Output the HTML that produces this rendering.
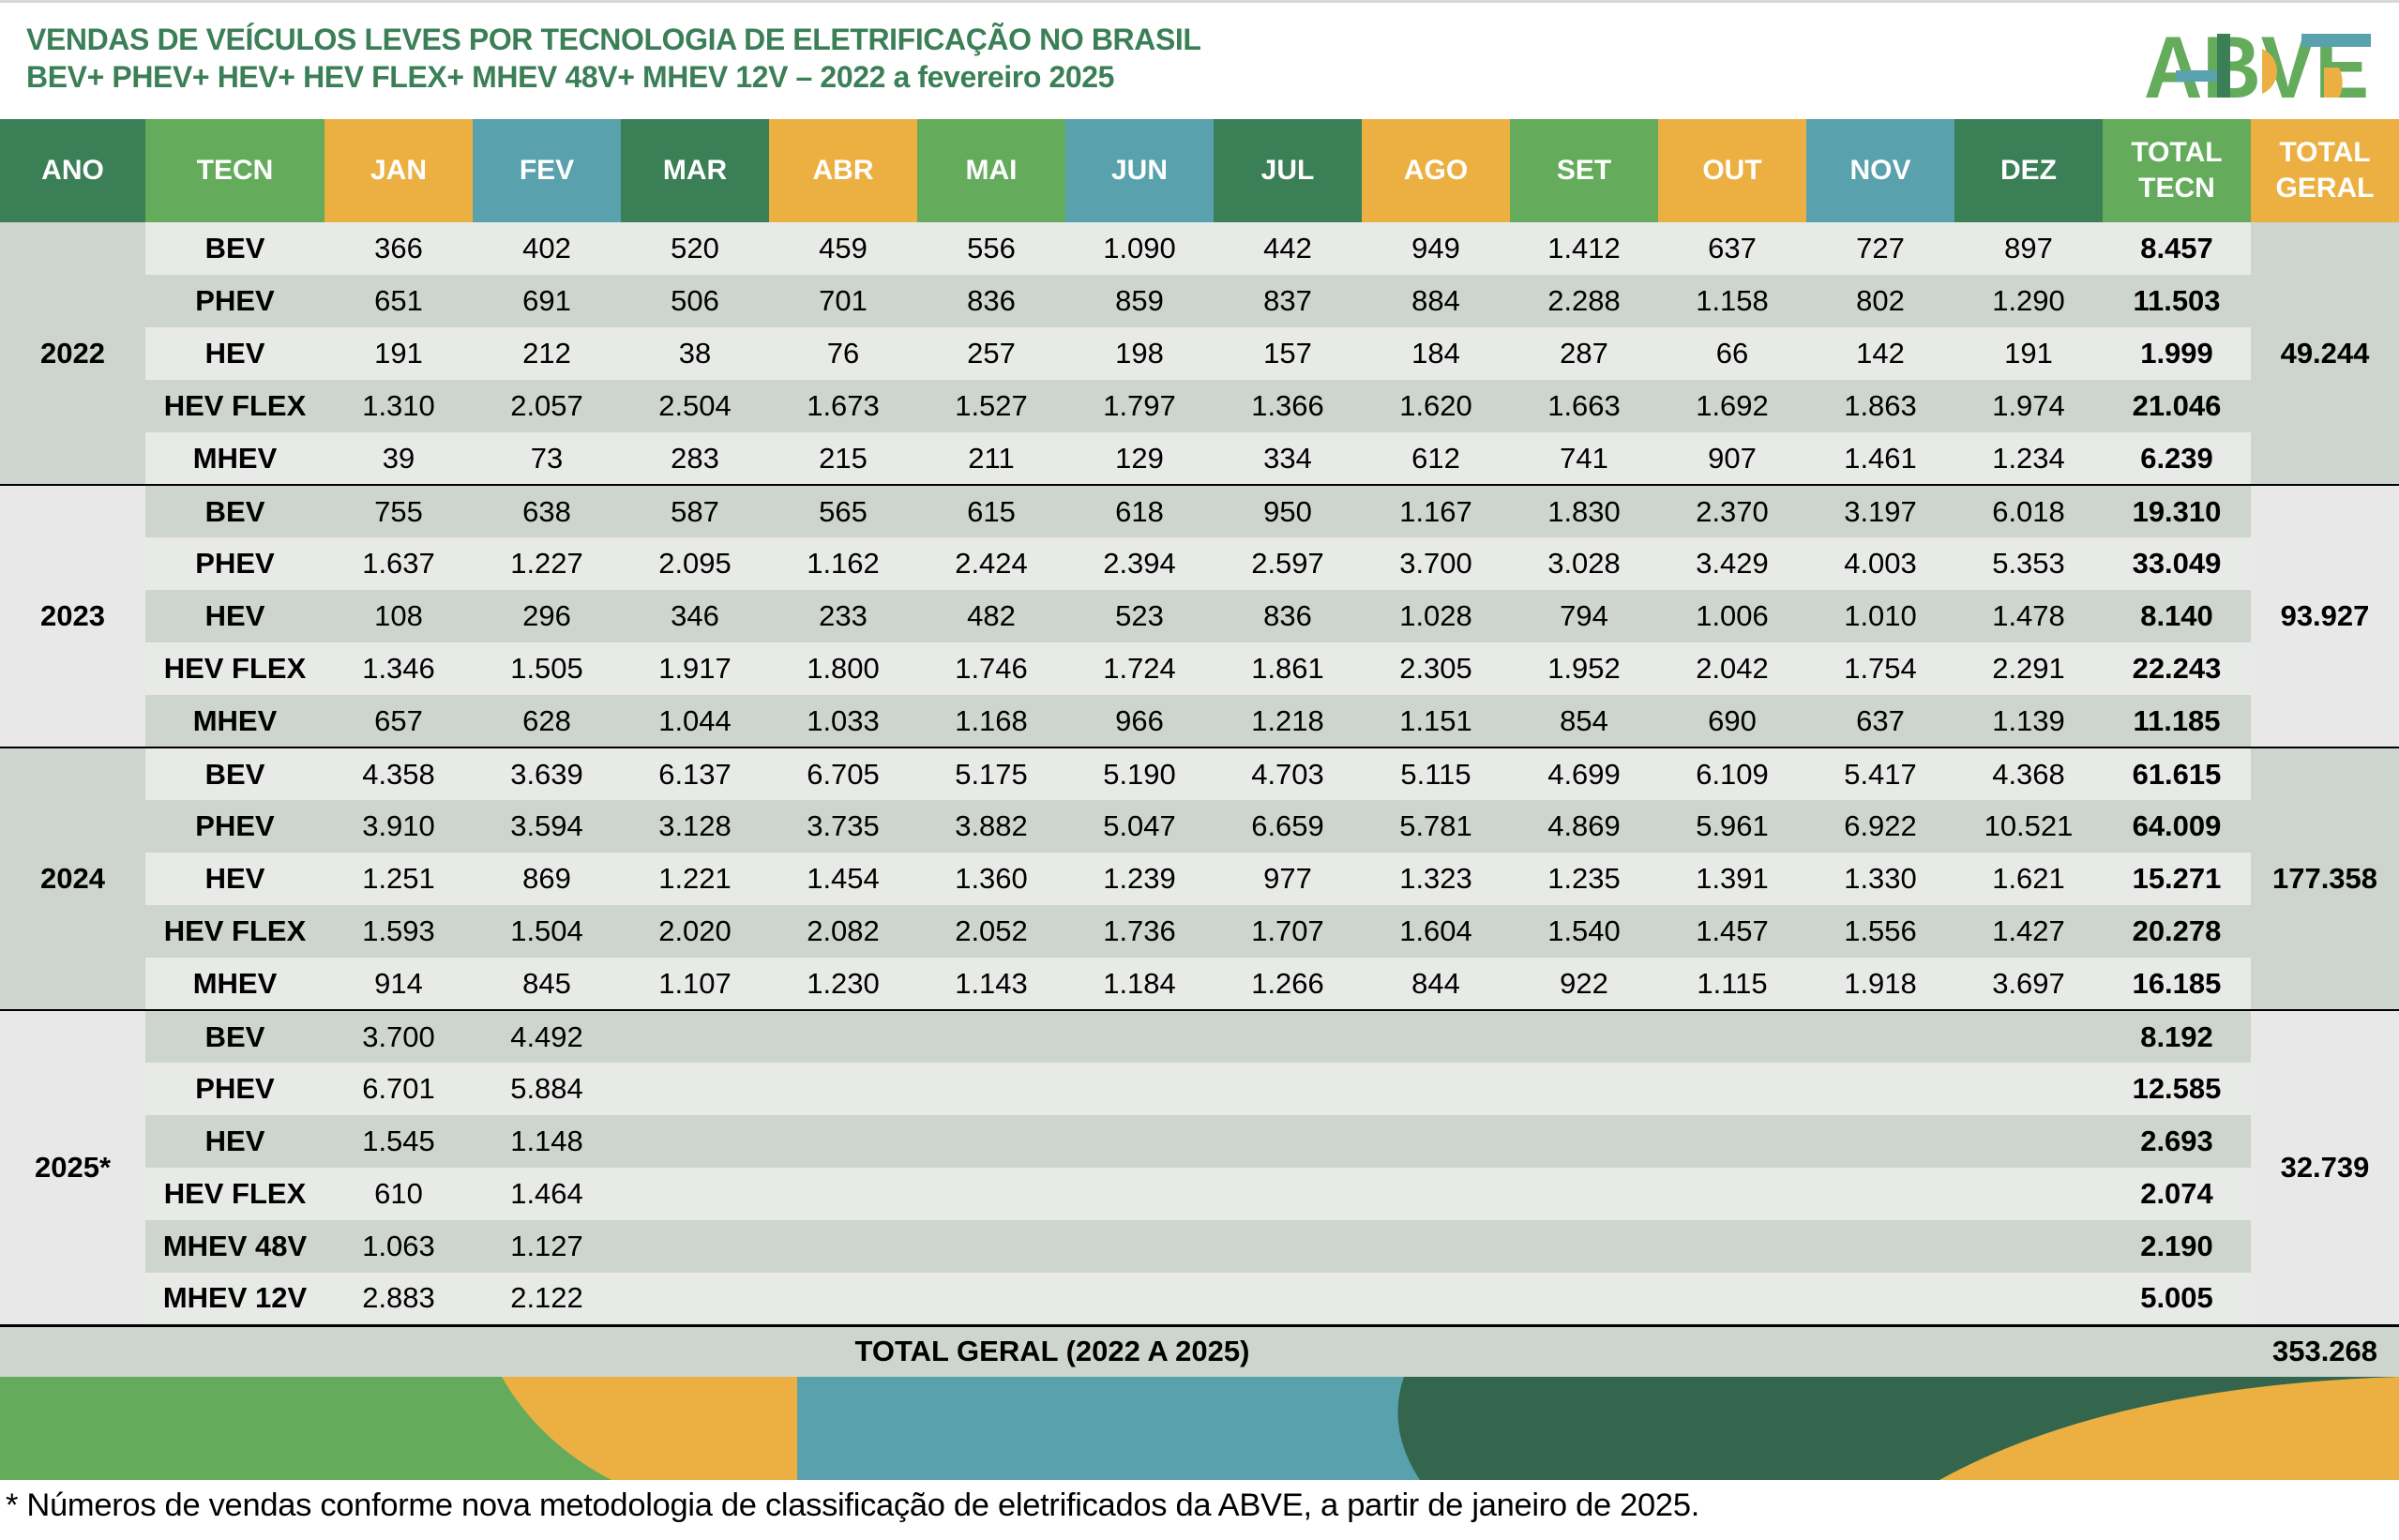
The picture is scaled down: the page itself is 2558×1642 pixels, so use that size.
<!DOCTYPE html>
<html><head><meta charset="utf-8">
<style>
*{margin:0;padding:0;box-sizing:border-box}
body{width:2558px;height:1642px;background:#fff;position:relative;overflow:hidden;font-family:"Liberation Sans",sans-serif}
.t{position:absolute;left:28px;color:#3b7f57;font-weight:bold;font-size:32px;white-space:nowrap;letter-spacing:-0.4px}
table{position:absolute;left:0;top:127px;border-collapse:collapse;table-layout:fixed;width:2558px}
td,th{padding:0;text-align:center;vertical-align:middle;overflow:hidden;white-space:nowrap}
th{height:110px;color:#fff;font-size:30px;font-weight:bold;line-height:38px}
td{height:56px;font-size:31px;color:#000}
.dg{background:#3b7f57}.lg{background:#64ab5c}.or{background:#ecb042}.te{background:#58a1ad}
tr.L td{background:#e8eae7}tr.D td{background:#cdd5ce}
td.yd{background:#cdd5ce!important;font-weight:bold}td.yl{background:#e8e8e8!important;font-weight:bold}
td.b{font-weight:bold}
tr.s td{border-top:2px solid #000}
tr.tot td{background:#cdd5ce;height:55px;font-weight:bold;border-top:3px solid #000}
.fn{position:absolute;left:6px;top:1586px;font-size:34.5px;white-space:nowrap;color:#000;letter-spacing:-0.3px}
</style></head><body>
<div style="position:absolute;left:0;top:0;width:2558px;height:3px;background:#d8d8d8"></div>
<div class="t" style="top:24px">VENDAS DE VEÍCULOS LEVES POR TECNOLOGIA DE ELETRIFICAÇÃO NO BRASIL</div>
<div class="t" style="top:64px">BEV+ PHEV+ HEV+ HEV FLEX+ MHEV 48V+ MHEV 12V – 2022 a fevereiro 2025</div>
<svg style="position:absolute;left:2282px;top:30px" width="260" height="80">
<text x="4" y="74" font-family="Liberation Sans" font-weight="bold" font-size="94" fill="#64ab5c" textLength="240" lengthAdjust="spacingAndGlyphs">ABVE</text>
<rect x="38" y="45" width="44" height="12" fill="#58a1ad"/>
<rect x="82" y="6" width="14" height="68" fill="#3b7f57"/>
<rect x="172" y="6" width="74" height="14" fill="#58a1ad"/>
<path d="M130 22 A26 26 0 0 1 130 70 Z" fill="#ecb042"/>
<path d="M196 42 L212 42 A28 32 0 0 1 212 74 L196 74Z" fill="#ecb042"/>
</svg>
<table>
<colgroup><col style="width:155px"><col style="width:191px"><col span="12" style="width:158px"><col style="width:158px"><col style="width:158px"></colgroup>
<tr><th class="dg">ANO</th><th class="lg">TECN</th><th class="or">JAN</th><th class="te">FEV</th><th class="dg">MAR</th><th class="or">ABR</th><th class="lg">MAI</th><th class="te">JUN</th><th class="dg">JUL</th><th class="or">AGO</th><th class="lg">SET</th><th class="or">OUT</th><th class="te">NOV</th><th class="dg">DEZ</th><th class="lg">TOTAL<br>TECN</th><th class="or">TOTAL<br>GERAL</th></tr>
<tr class="L"><td class="yd" rowspan="5">2022</td><td class="b">BEV</td><td>366</td><td>402</td><td>520</td><td>459</td><td>556</td><td>1.090</td><td>442</td><td>949</td><td>1.412</td><td>637</td><td>727</td><td>897</td><td class="b">8.457</td><td class="yd" rowspan="5">49.244</td></tr>
<tr class="D"><td class="b">PHEV</td><td>651</td><td>691</td><td>506</td><td>701</td><td>836</td><td>859</td><td>837</td><td>884</td><td>2.288</td><td>1.158</td><td>802</td><td>1.290</td><td class="b">11.503</td></tr>
<tr class="L"><td class="b">HEV</td><td>191</td><td>212</td><td>38</td><td>76</td><td>257</td><td>198</td><td>157</td><td>184</td><td>287</td><td>66</td><td>142</td><td>191</td><td class="b">1.999</td></tr>
<tr class="D"><td class="b">HEV FLEX</td><td>1.310</td><td>2.057</td><td>2.504</td><td>1.673</td><td>1.527</td><td>1.797</td><td>1.366</td><td>1.620</td><td>1.663</td><td>1.692</td><td>1.863</td><td>1.974</td><td class="b">21.046</td></tr>
<tr class="L"><td class="b">MHEV</td><td>39</td><td>73</td><td>283</td><td>215</td><td>211</td><td>129</td><td>334</td><td>612</td><td>741</td><td>907</td><td>1.461</td><td>1.234</td><td class="b">6.239</td></tr>
<tr class="D s"><td class="yl" rowspan="5">2023</td><td class="b">BEV</td><td>755</td><td>638</td><td>587</td><td>565</td><td>615</td><td>618</td><td>950</td><td>1.167</td><td>1.830</td><td>2.370</td><td>3.197</td><td>6.018</td><td class="b">19.310</td><td class="yl" rowspan="5">93.927</td></tr>
<tr class="L"><td class="b">PHEV</td><td>1.637</td><td>1.227</td><td>2.095</td><td>1.162</td><td>2.424</td><td>2.394</td><td>2.597</td><td>3.700</td><td>3.028</td><td>3.429</td><td>4.003</td><td>5.353</td><td class="b">33.049</td></tr>
<tr class="D"><td class="b">HEV</td><td>108</td><td>296</td><td>346</td><td>233</td><td>482</td><td>523</td><td>836</td><td>1.028</td><td>794</td><td>1.006</td><td>1.010</td><td>1.478</td><td class="b">8.140</td></tr>
<tr class="L"><td class="b">HEV FLEX</td><td>1.346</td><td>1.505</td><td>1.917</td><td>1.800</td><td>1.746</td><td>1.724</td><td>1.861</td><td>2.305</td><td>1.952</td><td>2.042</td><td>1.754</td><td>2.291</td><td class="b">22.243</td></tr>
<tr class="D"><td class="b">MHEV</td><td>657</td><td>628</td><td>1.044</td><td>1.033</td><td>1.168</td><td>966</td><td>1.218</td><td>1.151</td><td>854</td><td>690</td><td>637</td><td>1.139</td><td class="b">11.185</td></tr>
<tr class="L s"><td class="yd" rowspan="5">2024</td><td class="b">BEV</td><td>4.358</td><td>3.639</td><td>6.137</td><td>6.705</td><td>5.175</td><td>5.190</td><td>4.703</td><td>5.115</td><td>4.699</td><td>6.109</td><td>5.417</td><td>4.368</td><td class="b">61.615</td><td class="yd" rowspan="5">177.358</td></tr>
<tr class="D"><td class="b">PHEV</td><td>3.910</td><td>3.594</td><td>3.128</td><td>3.735</td><td>3.882</td><td>5.047</td><td>6.659</td><td>5.781</td><td>4.869</td><td>5.961</td><td>6.922</td><td>10.521</td><td class="b">64.009</td></tr>
<tr class="L"><td class="b">HEV</td><td>1.251</td><td>869</td><td>1.221</td><td>1.454</td><td>1.360</td><td>1.239</td><td>977</td><td>1.323</td><td>1.235</td><td>1.391</td><td>1.330</td><td>1.621</td><td class="b">15.271</td></tr>
<tr class="D"><td class="b">HEV FLEX</td><td>1.593</td><td>1.504</td><td>2.020</td><td>2.082</td><td>2.052</td><td>1.736</td><td>1.707</td><td>1.604</td><td>1.540</td><td>1.457</td><td>1.556</td><td>1.427</td><td class="b">20.278</td></tr>
<tr class="L"><td class="b">MHEV</td><td>914</td><td>845</td><td>1.107</td><td>1.230</td><td>1.143</td><td>1.184</td><td>1.266</td><td>844</td><td>922</td><td>1.115</td><td>1.918</td><td>3.697</td><td class="b">16.185</td></tr>
<tr class="D s"><td class="yl" rowspan="6">2025*</td><td class="b">BEV</td><td>3.700</td><td>4.492</td><td></td><td></td><td></td><td></td><td></td><td></td><td></td><td></td><td></td><td></td><td class="b">8.192</td><td class="yl" rowspan="6">32.739</td></tr>
<tr class="L"><td class="b">PHEV</td><td>6.701</td><td>5.884</td><td></td><td></td><td></td><td></td><td></td><td></td><td></td><td></td><td></td><td></td><td class="b">12.585</td></tr>
<tr class="D"><td class="b">HEV</td><td>1.545</td><td>1.148</td><td></td><td></td><td></td><td></td><td></td><td></td><td></td><td></td><td></td><td></td><td class="b">2.693</td></tr>
<tr class="L"><td class="b">HEV FLEX</td><td>610</td><td>1.464</td><td></td><td></td><td></td><td></td><td></td><td></td><td></td><td></td><td></td><td></td><td class="b">2.074</td></tr>
<tr class="D"><td class="b">MHEV 48V</td><td>1.063</td><td>1.127</td><td></td><td></td><td></td><td></td><td></td><td></td><td></td><td></td><td></td><td></td><td class="b">2.190</td></tr>
<tr class="L"><td class="b">MHEV 12V</td><td>2.883</td><td>2.122</td><td></td><td></td><td></td><td></td><td></td><td></td><td></td><td></td><td></td><td></td><td class="b">5.005</td></tr>
<tr class="tot"><td colspan="15" style="text-align:center;padding-right:156px">TOTAL GERAL (2022 A 2025)</td><td>353.268</td></tr>
</table>
<svg style="position:absolute;left:0;top:1468px" width="2558" height="110">
<rect x="0" y="0" width="2558" height="110" fill="#33664d"/>
<rect x="0" y="0" width="860" height="110" fill="#ecb042"/>
<path d="M0 0 L535 0 Q575 70 652 110 L0 110Z" fill="#64ab5c"/>
<path d="M850 0 L1497 0 Q1478 55 1514 110 L850 110Z" fill="#58a1ad"/>
<path d="M2068 110 Q2250 10 2558 0 L2558 110Z" fill="#ecb042"/>
</svg>
<div class="fn">* Números de vendas conforme nova metodologia de classificação de eletrificados da ABVE, a partir de janeiro de 2025.</div>
</body></html>
